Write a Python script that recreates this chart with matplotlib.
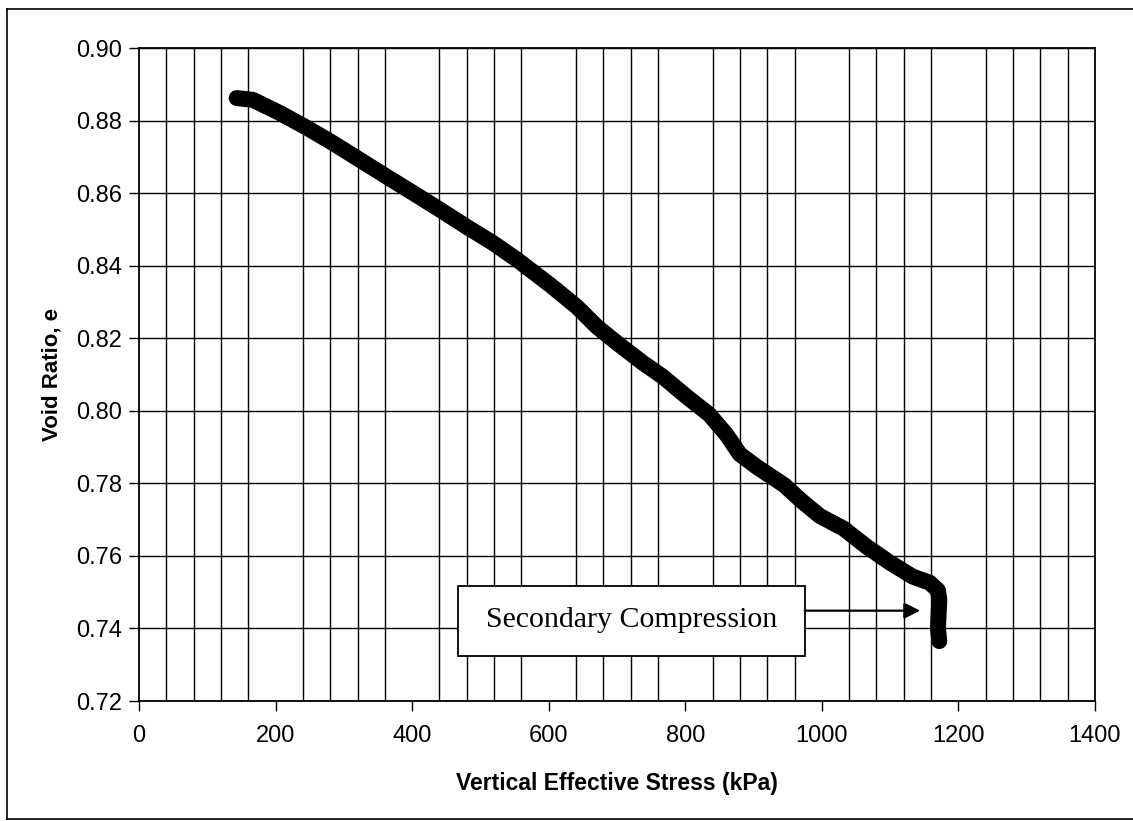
# Curva di compressione edometrica: indice dei vuoti vs tensione verticale efficace
import matplotlib.pyplot as plt
from matplotlib.patches import Rectangle
from matplotlib.lines import Line2D

### DATI ##########################################
# Tensione verticale efficace (kPa)
stress_kPa = [143, 167, 206, 246, 284, 324, 363, 401, 441, 480, 518, 554,
              602, 641, 671, 700, 738, 767, 802, 835, 860, 880, 905, 925,
              945, 970, 997, 1032, 1066, 1100, 1133, 1158, 1170, 1172,
              1171, 1170, 1172]
# Indice dei vuoti e
void_ratio = [0.8862, 0.8857, 0.8821, 0.8780, 0.8738, 0.8691, 0.8645, 0.8601,
              0.8554, 0.8507, 0.8463, 0.8416, 0.8347, 0.8287, 0.8231, 0.8187,
              0.8132, 0.8094, 0.8039, 0.7990, 0.7935, 0.7880, 0.7845, 0.7820,
              0.7795, 0.7752, 0.7710, 0.7675, 0.7625, 0.7581, 0.7543, 0.7526,
              0.7505, 0.7480, 0.7440, 0.7400, 0.7365]

x_ticks = [0, 200, 400, 600, 800, 1000, 1200, 1400]
y_ticks = [0.72, 0.74, 0.76, 0.78, 0.80, 0.82, 0.84, 0.86, 0.88, 0.90]
nota = 'Secondary Compression'
####################################################

plt.rcParams['font.family'] = ['Liberation Sans', 'DejaVu Sans']

fig = plt.figure(figsize=(11.33, 8.21), dpi=100)
ax = fig.add_axes([139/1133, 1-701/821, (1095-139)/1133, (701-48)/821])

# Griglia: orizzontale ogni 0.02, verticale ogni 40 kPa
ax.set_xlim(0, 1400)
ax.set_ylim(0.72, 0.90)
ax.set_xticks(x_ticks)
ax.set_xticks(range(0, 1401, 40), minor=True)
ax.set_yticks(y_ticks)
ax.set_yticklabels(['{:.2f}'.format(v) for v in y_ticks])
ax.grid(True, which='major', axis='y', color='black', linewidth=1.0)
ax.grid(True, which='minor', axis='x', color='black', linewidth=1.0)
ax.tick_params(axis='x', which='minor', length=0)
ax.tick_params(axis='both', which='major', direction='out', length=7,
               width=1.0, labelsize=17)
ax.tick_params(axis='x', pad=10)
ax.tick_params(axis='y', pad=5)
ax.set_axisbelow(True)
for sp in ax.spines.values():
    sp.set_linewidth(1.3)

ax.set_xlabel('Vertical Effective Stress (kPa)', fontsize=16.5,
              fontweight='bold', labelpad=18)
ax.set_ylabel('Void Ratio, e', fontsize=16, fontweight='bold', labelpad=10)

# Traccia della prova (punti sovrapposti -> linea spessa)
ax.plot(stress_kPa, void_ratio, '-', color='black', linewidth=11.5,
        solid_capstyle='round', solid_joinstyle='round', zorder=3)

# Riquadro con la nota e freccia verso la compressione secondaria
ax.add_patch(Rectangle((467, 0.7325), 975-467, 0.7518-0.7325,
                       facecolor='white', edgecolor='black', linewidth=1.3,
                       zorder=4))
ax.text((467+975)/2, 0.7422, nota, ha='center', va='center',
        family='Liberation Serif', fontsize=21.5, zorder=5)
ax.annotate('', xy=(1144, 0.7449), xytext=(975, 0.7449),
            arrowprops=dict(arrowstyle='-|>', color='black', lw=1.6,
                            mutation_scale=24, shrinkA=0, shrinkB=0),
            zorder=5)

# Cornice esterna del grafico
fig.add_artist(Line2D([7/1133, 7/1133], [1-819/821, 1-9/821],
                      transform=fig.transFigure, color='black', linewidth=1.2))
fig.add_artist(Line2D([7/1133, 1.0], [1-9/821, 1-9/821],
                      transform=fig.transFigure, color='black', linewidth=1.2))
fig.add_artist(Line2D([7/1133, 1.0], [1-819/821, 1-819/821],
                      transform=fig.transFigure, color='black', linewidth=1.2))

plt.savefig('out.png', dpi=100)
